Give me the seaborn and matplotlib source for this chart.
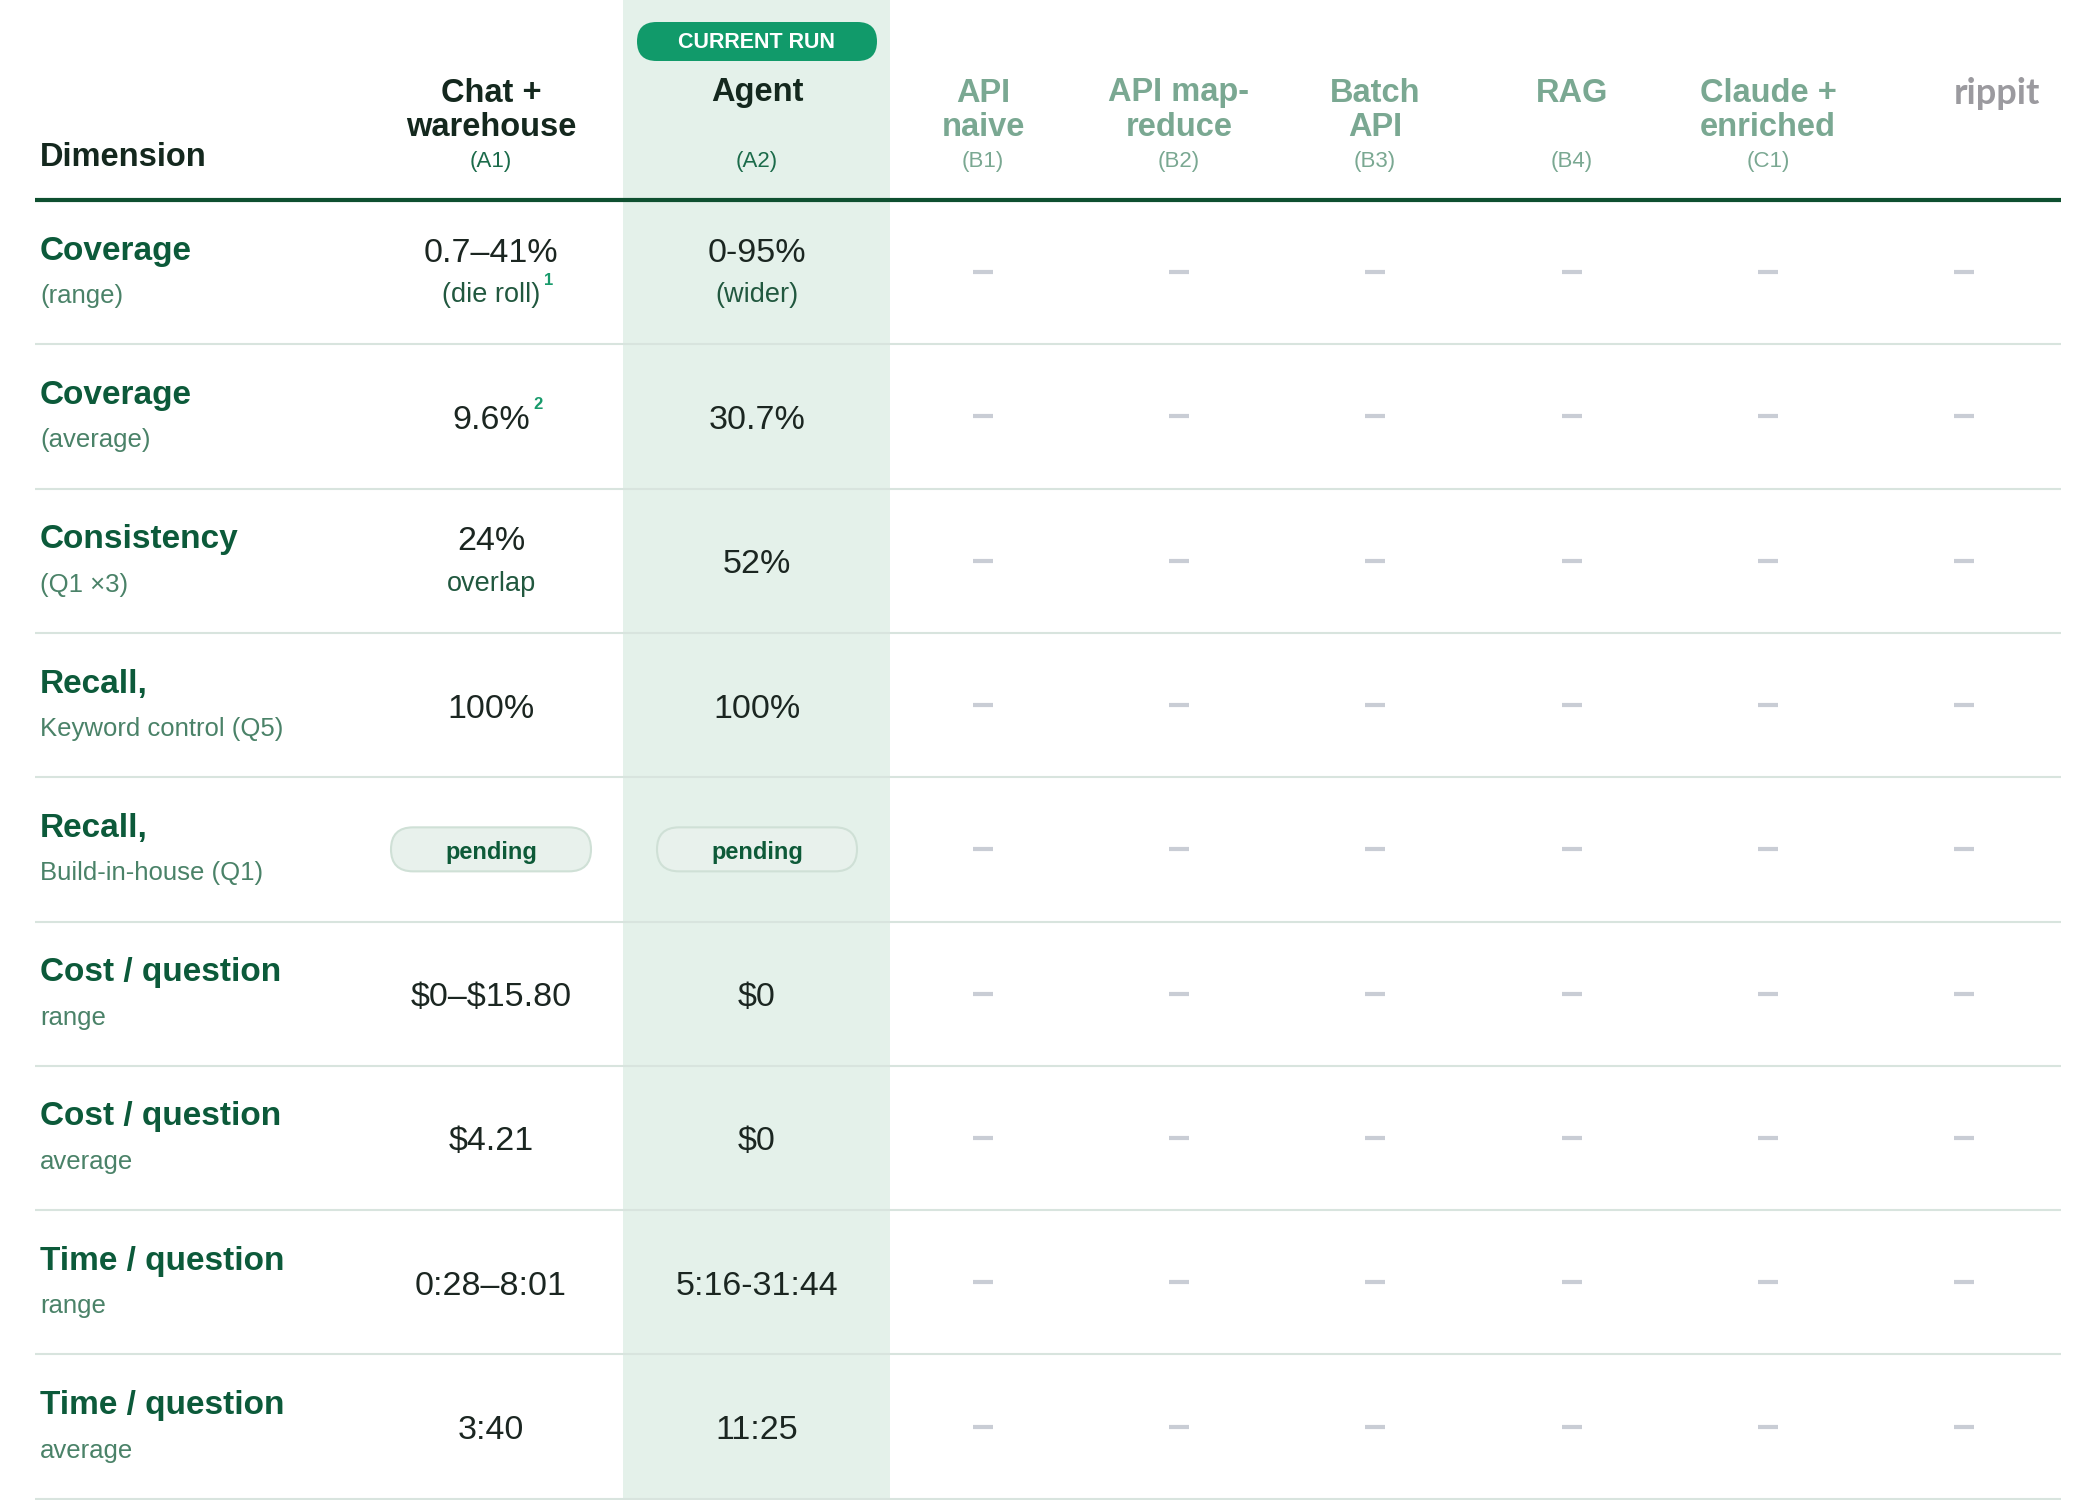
import numpy as np
import pandas as pd
import matplotlib.pyplot as plt
import seaborn as sns
from matplotlib.patches import FancyBboxPatch

sns.set_theme(style="white")
plt.rcParams['font.family'] = ['Liberation Sans', 'DejaVu Sans']
plt.rcParams['text.parse_math'] = False

# --- table content ---
col_names = [["Chat +", "warehouse"], ["Agent"], ["API", "naive"], ["API map-", "reduce"],
             ["Batch", "API"], ["RAG"], ["Claude +", "enriched"], ["rippit"]]
col_codes = ["(A1)", "(A2)", "(B1)", "(B2)", "(B3)", "(B4)", "(C1)", ""]
row_titles = ["Coverage", "Coverage", "Consistency", "Recall,", "Recall,",
              "Cost / question", "Cost / question", "Time / question", "Time / question"]
row_subtitles = ["(range)", "(average)", "(Q1 ×3)", "Keyword control (Q5)", "Build-in-house (Q1)",
                 "range", "average", "range", "average"]
a1_values = ["0.7–41%", "9.6%", "24%", "100%", "pending", "$0–$15.80", "$4.21", "0:28–8:01", "3:40"]
a1_notes = ["(die roll)", "", "overlap", "", "", "", "", "", ""]
a1_sups = ["1", "2", "", "", "", "", "", "", ""]
a2_values = ["0-95%", "30.7%", "52%", "100%", "pending", "$0", "$0", "5:16-31:44", "11:25"]
a2_notes = ["(wider)", "", "", "", "", "", "", "", ""]
empty_cols = ["B1", "B2", "B3", "B4", "C1", "rippit"]

# --- layout (pixels) ---
W, H = 2080, 1500
col_x = [491, 757, 983, 1179, 1375, 1572, 1768, 1964]
x_left, x_right = 35, 2061
head_bottom = 200
row_h = 144.3
band = (623, 890)
dy = 4  # small nudge so text sits like the original

DARK = "#14281e"
TITLE = "#0c5a3a"
SUB = "#4a8268"
NOTE = "#21583f"
VALUE = "#1b2621"
MUTED = "#7aa892"
SUPC = "#189a6b"

fig = plt.figure(figsize=(W / 100, H / 100), dpi=100)
ax = fig.add_axes([0, 0, 1, 1])
ax.set_xlim(0, W)
ax.set_ylim(H, 0)
ax.axis("off")

# highlighted "Agent" column
ax.axvspan(band[0], band[1], color="#e4f1ea", zorder=0, lw=0)

# row separators
n_rows = len(row_titles)
row_centers = [head_bottom + row_h * (i + 0.5) for i in range(n_rows)]
for i in range(1, n_rows + 1):
    ax.plot([x_left, x_right], [head_bottom + row_h * i] * 2, color="#d8e4de", lw=1.5, zorder=1,
            solid_capstyle="butt")
ax.plot([x_left, x_right], [head_bottom, head_bottom], color="#0e5030", lw=3, zorder=2,
        solid_capstyle="butt")

# header
ax.text(40, 157, "Dimension", ha="left", va="center", fontsize=23.5, fontweight="bold", color=DARK)
for k, (name, code) in enumerate(zip(col_names, col_codes)):
    cx = col_x[k]
    if name == ["rippit"]:
        ax.text(cx + 33, 94, "rippit", ha="center", va="center", fontsize=26, fontweight="bold",
                color="#9b9a9f", family=["Lato", "DejaVu Sans"])
        continue
    hc = DARK if k < 2 else MUTED
    cc = "#1b6b4a" if k < 2 else MUTED
    for j, line in enumerate(name):
        ax.text(cx, 93 + 35 * j, line, ha="center", va="center", fontsize=23.5,
                fontweight="bold", color=hc)
    ax.text(cx, 162, code, ha="center", va="center", fontsize=16, color=cc)

# CURRENT RUN pill
pill = FancyBboxPatch((637, 22), 240, 39, boxstyle="round,pad=0,rounding_size=19.5",
                      fc="#119a6a", ec="none", zorder=3)
ax.add_patch(pill)
ax.text(757, 43, "CURRENT RUN", ha="center", va="center", fontsize=15.5, fontweight="bold",
        color="white", zorder=4)

# dimension column
for yc, t, s in zip(row_centers, row_titles, row_subtitles):
    ax.text(40, yc - 25 + dy, t, ha="left", va="center", fontsize=24, fontweight="bold", color=TITLE)
    ax.text(40, yc + 20 + dy, s, ha="left", va="center", fontsize=18.5, color=SUB)


def draw_cell(cx, yc, value, note, sup):
    if value == "pending":
        p = FancyBboxPatch((cx - 100, yc - 22), 200, 44, boxstyle="round,pad=0,rounding_size=22",
                           fc="#e8f1ec", ec="#cfe0d6", lw=1.5, zorder=3)
        ax.add_patch(p)
        ax.text(cx, yc + 3, value, ha="center", va="center", fontsize=17, fontweight="bold",
                color="#0d5a38", zorder=4)
        return
    if note:
        ax.text(cx, yc - 23 + dy, value, ha="center", va="center", fontsize=24.5, color=VALUE)
        t = ax.text(cx, yc + 19 + dy, note, ha="center", va="center", fontsize=19.5, color=NOTE)
    else:
        t = ax.text(cx, yc + dy, value, ha="center", va="center", fontsize=24.5, color=VALUE)
    if sup:
        ax.annotate(sup, xy=(1, 0.75), xycoords=t, xytext=(4, 8), textcoords="offset pixels",
                    ha="left", va="center", fontsize=12, fontweight="bold", color=SUPC)


for i, yc in enumerate(row_centers):
    draw_cell(col_x[0], yc, a1_values[i], a1_notes[i], a1_sups[i])
    draw_cell(col_x[1], yc, a2_values[i], a2_notes[i], "")

# placeholder dashes for columns without results
dash_df = pd.DataFrame([(col_x[2 + j], yc) for j in range(len(empty_cols)) for yc in row_centers],
                       columns=["x", "y"])
sns.scatterplot(data=dash_df, x="x", y="y", marker="_", s=190, color="#c9cdd5",
                linewidth=3, ax=ax, zorder=2, legend=False)
ax.set_xlim(0, W)
ax.set_ylim(H, 0)
ax.axis("off")

fig.savefig("out.png", dpi=100, facecolor="white")
